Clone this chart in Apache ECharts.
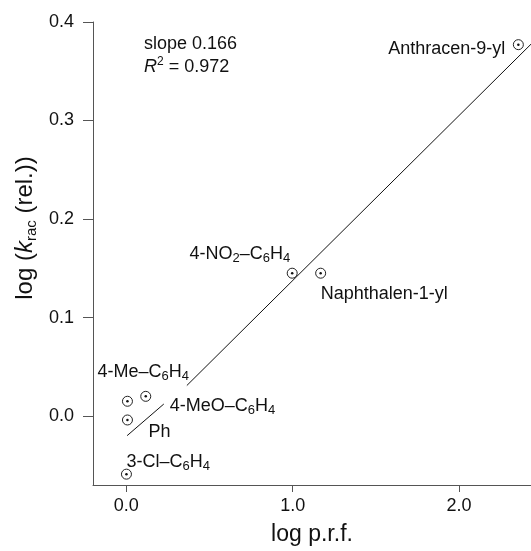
<!DOCTYPE html>
<html>
<head>
<meta charset="utf-8">
<script src="https://cdn.jsdelivr.net/npm/echarts@6/dist/echarts.min.js"></script>
<style>
  html, body { margin: 0; padding: 0; background: #fff; }
  #chart { width: 531px; height: 551px; }
</style>
</head>
<body>
<div id="chart"></div>
<script>
// substituents and their measured points
const names = ['Anthracen-9-yl', 'Naphthalen-1-yl', '4-NO2-C6H4', '4-Me-C6H4', '4-MeO-C6H4', 'Ph', '3-Cl-C6H4'];
const logPrf = [2.356, 1.168, 0.997, 0.007, 0.117, 0.007, 0.001];
const logKrac = [0.377, 0.145, 0.145, 0.015, 0.020, -0.004, -0.059];

// label text (rich markup for subscripts)
const labelText = [
    'Anthracen-9-yl',
    'Naphthalen-1-yl',
    '4-NO{sub|2}\u2013C{sub|6}H{sub|4}',
    '4-Me\u2013C{sub|6}H{sub|4}',
    '4-MeO\u2013C{sub|6}H{sub|4}',
    'Ph',
    '3-Cl\u2013C{sub|6}H{sub|4}'
];

// regression line, drawn in two pieces (gap under the labels)
const fitX = [0.005, 0.2255, null, 0.364, 2.432];
const fitY = [-0.0199, 0.0122, null, 0.031, 0.3775];

const xTicks = [0, 1, 2];
const yTicks = [0, 0.1, 0.2, 0.3, 0.4];

// where each label sits relative to its point (px)
const labelPlace = [
    { align: 'right', dx: -13, dy: 4 },
    { align: 'left', dx: 0, dy: 21 },
    { align: 'right', dx: -2, dy: -19 },
    { align: 'left', dx: -30, dy: -29 },
    { align: 'left', dx: 24, dy: 10 },
    { align: 'left', dx: 21, dy: 12 },
    { align: 'left', dx: 0, dy: -12 }
];

const txt = '#111';
const axisCol = '#555';
const font = '"Liberation Sans", Arial, sans-serif';

const subRich = {
    sub: { fontSize: 13, lineHeight: 12, verticalAlign: 'bottom', fontFamily: font, color: txt, textBorderWidth: 0 }
};

const pointData = names.map(function (n, i) {
    const p = labelPlace[i];
    return {
        name: n,
        value: [logPrf[i], logKrac[i]],
        label: {
            show: true,
            position: 'inside',
            align: p.align,
            verticalAlign: 'middle',
            offset: [p.dx, p.dy],
            formatter: labelText[i],
            fontSize: 18,
            lineHeight: 22,
            fontFamily: font,
            color: txt,
            textBorderWidth: 0,
            rich: subRich
        }
    };
});

const fitData = fitX.map(function (x, i) {
    return x === null ? ['-', '-'] : [x, fitY[i]];
});

const chart = echarts.init(document.getElementById('chart'));

chart.setOption({
    backgroundColor: '#fff',
    animation: false,
    grid: { left: 93, right: 0, top: 22, bottom: 64 },
    xAxis: {
        type: 'value',
        min: -0.2,
        max: 2.432,
        name: 'log p.r.f.',
        nameLocation: 'middle',
        nameGap: 38,
        nameTextStyle: { fontSize: 23, fontFamily: font, color: txt, padding: [0, 0, 0, 0] },
        splitLine: { show: false },
        axisLine: { show: true, onZero: false, lineStyle: { color: axisCol, width: 1 } },
        axisTick: { show: true, length: 7, customValues: xTicks, lineStyle: { color: axisCol } },
        axisLabel: {
            customValues: xTicks,
            margin: 12,
            fontSize: 18,
            fontFamily: font,
            color: txt,
            formatter: function (v) { return v.toFixed(1); }
        }
    },
    yAxis: {
        type: 'value',
        min: -0.07,
        max: 0.4,
        splitLine: { show: false },
        axisLine: { show: true, onZero: false, lineStyle: { color: axisCol, width: 1 } },
        axisTick: { show: true, length: 10, customValues: yTicks, lineStyle: { color: axisCol } },
        axisLabel: {
            customValues: yTicks,
            margin: 19,
            fontSize: 18,
            fontFamily: font,
            color: txt,
            formatter: function (v) { return v.toFixed(1); }
        }
    },
    graphic: [
        {
            type: 'text',
            x: 25,
            y: 228,
            rotation: Math.PI / 2,
            style: {
                text: 'log ({k|k}{sub|rac} (rel.))',
                fontSize: 24,
                fontFamily: font,
                fill: txt,
                align: 'center',
                verticalAlign: 'middle',
                lineHeight: 28,
                rich: {
                    k: { fontSize: 24, fontStyle: 'italic', fontFamily: font, fill: txt, lineHeight: 28 },
                    sub: { fontSize: 15, lineHeight: 15, verticalAlign: 'bottom', fontFamily: font, fill: txt }
                }
            }
        },
        {
            type: 'text',
            x: 144,
            y: 44,
            style: {
                text: 'slope 0.166',
                fontSize: 18,
                fontFamily: font,
                fill: txt,
                verticalAlign: 'middle'
            }
        },
        {
            type: 'text',
            x: 144,
            y: 67,
            style: {
                text: '{r|R}{sup|2} = 0.972',
                fontSize: 18,
                fontFamily: font,
                fill: txt,
                verticalAlign: 'middle',
                lineHeight: 22,
                rich: {
                    r: { fontSize: 18, fontStyle: 'italic', fontFamily: font, fill: txt, lineHeight: 22 },
                    sup: { fontSize: 12, lineHeight: 12, verticalAlign: 'top', fontFamily: font, fill: txt }
                }
            }
        }
    ],
    series: [
        {
            type: 'line',
            data: fitData,
            showSymbol: false,
            connectNulls: false,
            silent: true,
            lineStyle: { color: '#111', width: 1 },
            z: 1
        },
        {
            type: 'scatter',
            data: pointData,
            symbol: 'circle',
            symbolSize: 10,
            itemStyle: { color: '#fff', borderColor: '#222', borderWidth: 1, opacity: 1 },
            z: 2
        },
        {
            type: 'scatter',
            data: names.map(function (n, i) { return [logPrf[i], logKrac[i]]; }),
            symbol: 'circle',
            symbolSize: 2.5,
            itemStyle: { color: '#111', opacity: 1 },
            silent: true,
            z: 3
        }
    ]
});
</script>
</body>
</html>
